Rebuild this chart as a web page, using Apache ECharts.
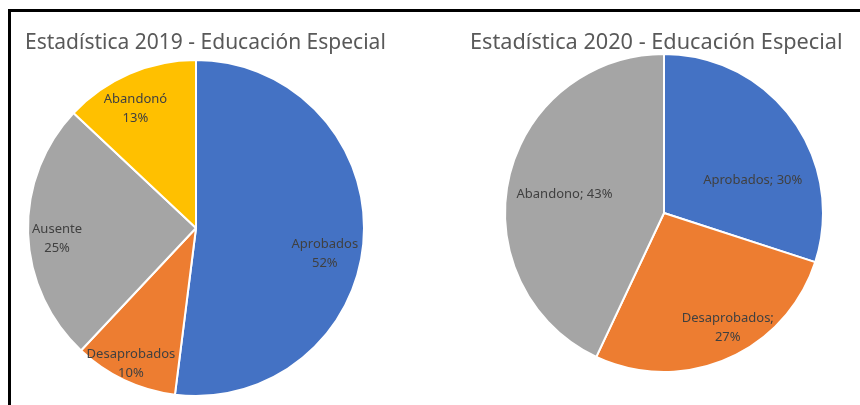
<!DOCTYPE html>
<html>
<head>
<meta charset="utf-8">
<script src="https://cdn.jsdelivr.net/npm/echarts@6/dist/echarts.min.js"></script>
<style>
  html, body { margin: 0; padding: 0; background: #fff; }
  #frame {
    position: absolute; left: 8px; top: 9px; width: 852px; height: 396px;
    border-top: 3px solid #000; border-left: 3px solid #000;
  }
  #chart { position: absolute; left: 0; top: 0; width: 860px; height: 405px; }
</style>
</head>
<body>
<div id="frame"></div>
<div id="chart"></div>
<script>
// 2019
const cats2019 = ['Aprobados', 'Desaprobados', 'Ausente', 'Abandonó']
const vals2019 = [52, 10, 25, 13]
// 2020
const cats2020 = ['Aprobados', 'Desaprobados', 'Abandono']
const vals2020 = [30, 27, 43]

const colors2019 = ['#4472C4', '#ED7D31', '#A5A5A5', '#FFC000']
const colors2020 = ['#4472C4', '#ED7D31', '#A5A5A5']
// label nudges away from the default inside spot
const offs2019 = [[42, 20], [-28, 57], [-52, 8], [-26, -39]]
const offs2020 = [[22, 16], [31, 39], [-19, -1]]

function build (cats, vals, colors, offs) {
  let out = []
  for (let i = 0; i < cats.length; i++) {
    out.push({
      name: cats[i],
      value: vals[i],
      itemStyle: { color: colors[i] },
      label: { offset: offs[i] }
    })
  }
  return out
}

const chart = echarts.init(document.getElementById('chart'))
const labelBase = {
  show: true,
  position: 'inside',
  color: '#404040',
  fontFamily: 'Noto Sans',
  fontSize: 13,
  lineHeight: 19
}
const titleStyle = { color: '#595959', fontFamily: 'Noto Sans', fontSize: 21, fontWeight: 'normal' }
chart.setOption({
  animation: false,
  title: [
    { text: 'Estadística 2019 - Educación Especial', left: 20, top: 28, textStyle: titleStyle },
    {
      text: 'Estadística 2020 - Educación Especial', left: 465, top: 27,
      textStyle: Object.assign({}, titleStyle, { fontSize: 21.7 })
    }
  ],
  series: [
    {
      type: 'pie',
      center: [196, 228],
      radius: 168,
      startAngle: 90,
      itemStyle: { borderColor: '#fff', borderWidth: 2 },
      label: Object.assign({}, labelBase, { formatter: '{b}\n{d}%' }),
      labelLine: { show: false },
      emphasis: { disabled: true },
      data: build(cats2019, vals2019, colors2019, offs2019)
    },
    {
      type: 'pie',
      center: [664, 213],
      radius: 159,
      startAngle: 90,
      itemStyle: { borderColor: '#fff', borderWidth: 2 },
      label: Object.assign({}, labelBase, {
        formatter: function (p) {
          return p.name === 'Desaprobados' ? p.name + ';\n' + p.percent + '%' : p.name + '; ' + p.percent + '%'
        }
      }),
      labelLine: { show: false },
      emphasis: { disabled: true },
      data: build(cats2020, vals2020, colors2020, offs2020)
    }
  ]
})
</script>
</body>
</html>
